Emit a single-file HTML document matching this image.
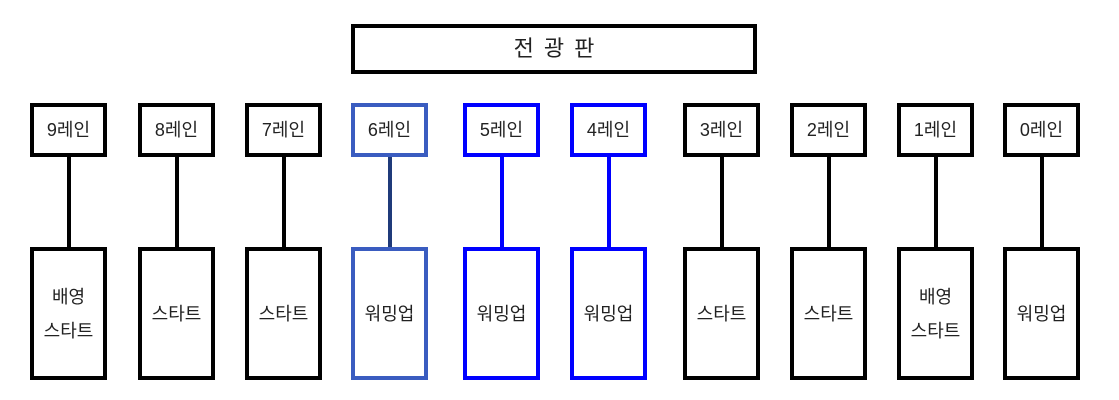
<!DOCTYPE html>
<html><head><meta charset="utf-8"><style>
body{margin:0;width:1119px;height:400px;background:#fff;position:relative;overflow:hidden;font-family:"Liberation Sans","Noto Sans CJK KR","NanumGothic",sans-serif;}
.b{position:absolute;box-sizing:border-box;border:4px solid #000;background:#fff;display:flex;align-items:center;justify-content:center;text-align:center;font-size:18px;color:#222;line-height:34px;}
.l{position:absolute;width:4px;background:#000;top:155px;height:94px;}
</style></head><body>
<div class="b" style="left:351px;top:24px;width:406px;height:50px;font-size:22px;letter-spacing:10px;padding-left:10px">전광판</div>
<div id="c"></div>
<script>
var xs=[30,138,245,351,463,570,683,790,897,1003];
var labels=["9레인","8레인","7레인","6레인","5레인","4레인","3레인","2레인","1레인","0레인"];
var bot=["배영<br>스타트","스타트","스타트","워밍업","워밍업","워밍업","스타트","스타트","배영<br>스타트","워밍업"];
var h="";
for(var i=0;i<10;i++){
 var c="#000",lc="#000";
 if(i==3){c="#3a5cc0";lc="#1f3a7a";}
 if(i==4||i==5){c="#0000ff";lc="#0000ff";}
 var x=xs[i];
 h+='<div class="l" style="left:'+(x+37)+'px;background:'+lc+'"></div>';
 h+='<div class="b" style="left:'+x+'px;top:103px;width:77px;height:54px;border-color:'+c+'">'+labels[i]+'</div>';
 h+='<div class="b" style="left:'+x+'px;top:247px;width:77px;height:133px;border-color:'+c+'">'+bot[i]+'</div>';
}
document.getElementById("c").innerHTML=h;
</script>
</body></html>
